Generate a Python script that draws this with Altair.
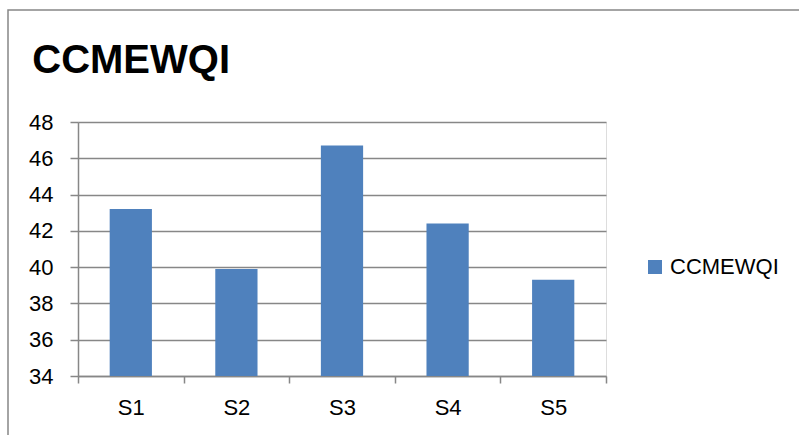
import altair as alt
import pandas as pd

categories = ["S1", "S2", "S3", "S4", "S5"]
values = [43.2, 39.9, 46.7, 42.4, 39.3]
series_name = "CCMEWQI"
y_ticks = [34, 36, 38, 40, 42, 44, 46, 48]
title_text = "CCMEWQI"

df = pd.DataFrame({"cat": categories, "val": values, "series": [series_name] * len(categories)})

FONT = "Liberation Sans"
GRAY = "#878787"

bars = alt.Chart(df).mark_bar(width={"band": 0.4}, clip=True).encode(
    x=alt.X("cat:N", sort=categories,
            scale=alt.Scale(paddingInner=0, paddingOuter=0),
            axis=alt.Axis(title=None, labelAngle=0, tickBand="extent",
                          tickSize=7, labelPadding=14,
                          labelFontSize=22, labelFont=FONT, labelColor="black",
                          domainColor=GRAY, tickColor=GRAY, domainWidth=1.5, tickWidth=1.5,
                          grid=False)),
    y=alt.Y("val:Q", scale=alt.Scale(domain=[34, 48], nice=False, zero=False),
            axis=alt.Axis(title=None, values=y_ticks, tickSize=8, labelPadding=17,
                          labelFontSize=22, labelFont=FONT, labelColor="black",
                          domainColor=GRAY, tickColor=GRAY, gridColor=GRAY,
                          domainWidth=1.5, tickWidth=1.5, gridWidth=1.5)),
    color=alt.Color("series:N", scale=alt.Scale(range=["#4F81BD"]),
                    legend=alt.Legend(title=None, orient="none", legendX=566, legendY=134,
                                      symbolType="square", symbolSize=196, symbolStrokeWidth=0,
                                      labelFontSize=22, labelFont=FONT, labelColor="black",
                                      labelOffset=4, padding=0)),
)

frame = alt.Chart(alt.Data(values=[{"f": 1}])).mark_rect(
    fill=None, stroke=GRAY, strokeWidth=1.5, clip=False
).encode(x=alt.value(-70), y=alt.value(-112), x2=alt.value(760), y2=alt.value(360))

chart = alt.layer(frame, bars).properties(
    width=528, height=254,
    title=alt.TitleParams(title_text, anchor="start", dx=25, offset=-104, baseline="alphabetic",
                          fontSize=40, font=FONT, fontWeight="bold", color="black"),
    autosize=alt.AutoSizeParams(type="none"),
    padding={"left": 78, "top": 122, "right": 193, "bottom": 59},
).configure_view(stroke=None).configure(background="white")

chart.save("out.html", embed_options={"renderer": "svg", "actions": False})
